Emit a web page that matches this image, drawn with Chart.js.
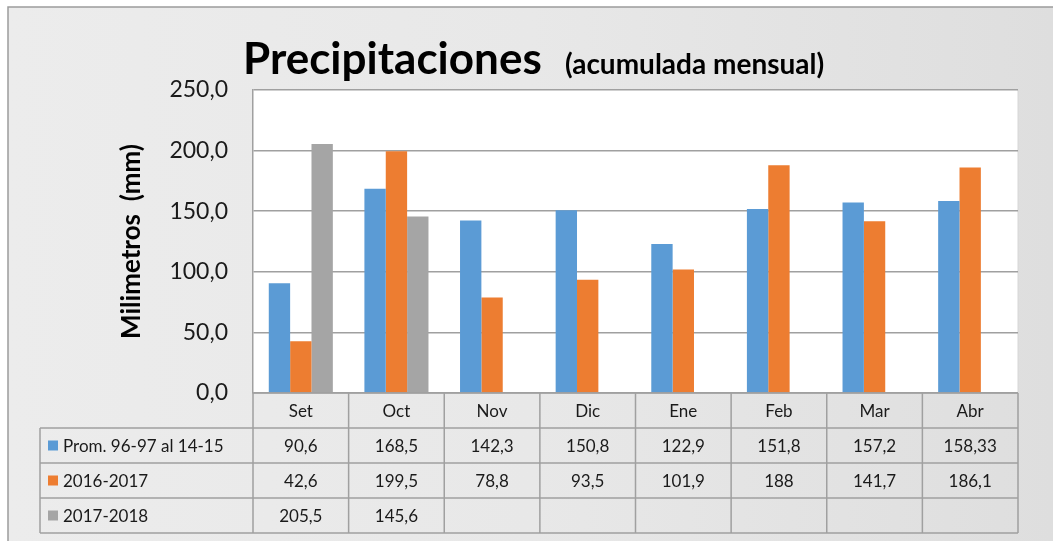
<!DOCTYPE html>
<html>
<head>
<meta charset="utf-8">
<script src="https://cdn.jsdelivr.net/npm/chart.js@4"></script>
<style>
  html, body { margin: 0; padding: 0; background: #fff; }
  #caja { width: 1053px; height: 541px; }
</style>
</head>
<body>
<div id="caja"><canvas id="lluviaChart" width="1053" height="541"></canvas></div>
<script>
const meses = ['Set', 'Oct', 'Nov', 'Dic', 'Ene', 'Feb', 'Mar', 'Abr']
const promedio = [90.6, 168.5, 142.3, 150.8, 122.9, 151.8, 157.2, 158.33]
const campana1617 = [42.6, 199.5, 78.8, 93.5, 101.9, 188, 141.7, 186.1]
const campana1718 = [205.5, 145.6, null, null, null, null, null, null]
const nombres = ['Prom. 96-97 al 14-15', '2016-2017', '2017-2018']
const colores = ['#5b9bd5', '#ed7d31', '#a5a5a5']

const fuente = 'Lato'
const coma = v => String(v).replace('.', ',')

const fondo = {
    id: 'fondo',
    beforeDraw(chart) {
        const { ctx, chartArea: a, width, height } = chart
        ctx.save()
        ctx.fillStyle = '#fff'
        ctx.fillRect(0, 0, width, height)
        const grad = ctx.createLinearGradient(8, 0, width, 0)
        grad.addColorStop(0, '#ececec')
        grad.addColorStop(0.5, '#e8e8e8')
        grad.addColorStop(1, '#dedede')
        ctx.fillStyle = grad
        ctx.fillRect(8, 7, width, height)
        ctx.strokeStyle = '#9c9c9c'
        ctx.lineWidth = 1.5
        ctx.beginPath()
        ctx.moveTo(8, height)
        ctx.lineTo(8, 7)
        ctx.lineTo(width, 7)
        ctx.stroke()
        // area de trazado
        ctx.fillStyle = '#fff'
        ctx.fillRect(a.left, a.top, a.right - a.left, a.bottom - a.top)
        ctx.strokeStyle = '#d6d6d6'
        ctx.lineWidth = 1
        ctx.beginPath()
        ctx.moveTo(a.right, a.top)
        ctx.lineTo(a.right, a.bottom)
        ctx.stroke()

        // titulo
        ctx.fillStyle = '#000'
        ctx.textBaseline = 'alphabetic'
        ctx.textAlign = 'left'
        ctx.font = `bold 44px ${fuente}`
        ctx.fillText('Precipitaciones', 243, 74)
        ctx.font = `bold 28px ${fuente}`
        ctx.fillText('(acumulada mensual)', 565, 74)
        ctx.restore()
    }
}

const tabla = {
    id: 'tabla',
    afterDraw(chart) {
        const { ctx, chartArea: a, scales: { x } } = chart
        const izq = 40
        const alto = 35
        const filas = [a.bottom, a.bottom + alto, a.bottom + 2 * alto, a.bottom + 3 * alto, a.bottom + 4 * alto]
        const bordes = [a.left]
        for (let i = 0; i < meses.length - 1; i++) {
            bordes.push((x.getPixelForValue(i) + x.getPixelForValue(i + 1)) / 2)
        }
        bordes.push(a.right)

        ctx.save()
        ctx.strokeStyle = '#a0a0a0'
        ctx.lineWidth = 1.5
        ctx.beginPath()
        ctx.moveTo(a.left, filas[0])
        ctx.lineTo(a.right, filas[0])
        for (let r = 1; r < filas.length; r++) {
            ctx.moveTo(izq, filas[r])
            ctx.lineTo(a.right, filas[r])
        }
        ctx.moveTo(izq, filas[1])
        ctx.lineTo(izq, filas[4])
        bordes.forEach(b => {
            ctx.moveTo(b, filas[0])
            ctx.lineTo(b, filas[4])
        })
        ctx.stroke()

        ctx.fillStyle = '#1a1a1a'
        ctx.textBaseline = 'middle'
        ctx.textAlign = 'center'
        ctx.font = `17px ${fuente}`
        meses.forEach((m, i) => {
            ctx.fillText(m, x.getPixelForValue(i), (filas[0] + filas[1]) / 2 + 1)
        })

        const series = [promedio, campana1617, campana1718]
        series.forEach((serie, s) => {
            const yc = (filas[s + 1] + filas[s + 2]) / 2 + 1
            serie.forEach((v, i) => {
                if (v === null) return
                ctx.textAlign = 'center'
                ctx.fillText(coma(v), x.getPixelForValue(i), yc)
            })
            ctx.fillStyle = colores[s]
            ctx.fillRect(48, yc - 6, 10, 10)
            ctx.fillStyle = '#1a1a1a'
            ctx.textAlign = 'left'
            ctx.fillText(nombres[s], 63, yc)
        })
        ctx.restore()
    }
}

const grafico = new Chart(document.getElementById('lluviaChart'), {
    type: 'bar',
    data: {
        labels: meses,
        datasets: [
            { label: nombres[0], data: promedio, backgroundColor: colores[0] },
            { label: nombres[1], data: campana1617, backgroundColor: colores[1] },
            { label: nombres[2], data: campana1718, backgroundColor: colores[2] }
        ]
    },
    options: {
        responsive: false,
        animation: false,
        events: [],
        categoryPercentage: 0.67,
        barPercentage: 1,
        layout: { padding: { left: 116, top: 90, right: 35, bottom: 148 } },
        plugins: {
            legend: { display: false },
            tooltip: { enabled: false }
        },
        scales: {
            x: { display: false },
            y: {
                min: 0,
                max: 250,
                afterFit(scale) { scale.width = 137 },
                ticks: {
                    stepSize: 50,
                    padding: 25,
                    color: '#1a1a1a',
                    font: { family: fuente, size: 23 },
                    callback: v => v.toFixed(1).replace('.', ',')
                },
                grid: { color: '#a0a0a0', lineWidth: 1.5, drawTicks: false },
                border: { display: true, color: '#a0a0a0', width: 1.5 },
                title: {
                    display: true,
                    text: 'Milimetros  (mm)',
                    color: '#000',
                    padding: 0,
                    font: { family: fuente, size: 26, weight: 'bold' }
                }
            }
        }
    },
    plugins: [fondo, tabla]
})
</script>
</body>
</html>
